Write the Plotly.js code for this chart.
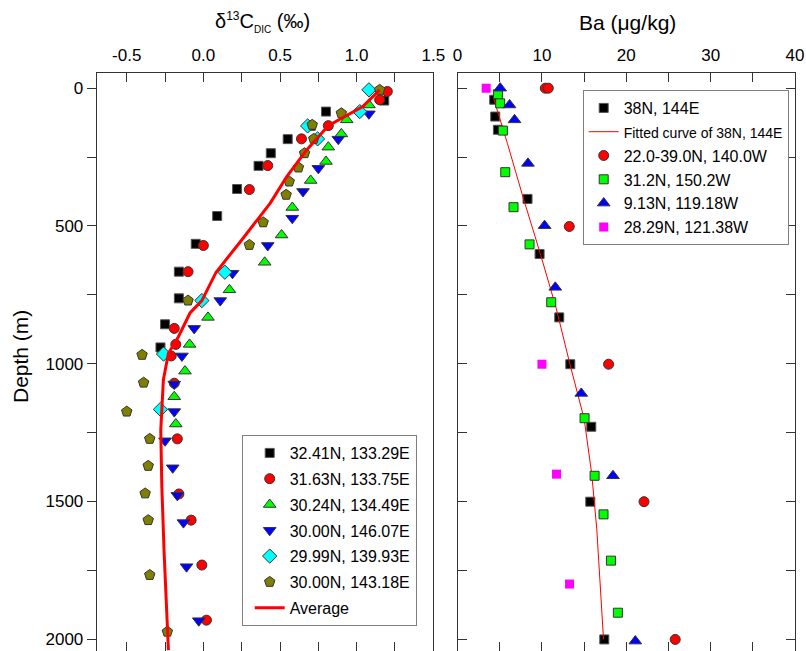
<!DOCTYPE html>
<html>
<head>
<meta charset="utf-8">
<script src="https://cdn.plot.ly/plotly-3.0.1.min.js"></script>
<style>html,body{margin:0;padding:0;background:#fff;}#chart{width:806px;height:651px;}</style>
</head>
<body>
<div id="chart"></div>
<script>
// ---------- Left panel: δ13C-DIC (‰) vs depth (m) ----------
const c1Name = "32.41N, 133.29E";
const c1X = [1.18, 0.80, 0.70, 0.55, 0.44, 0.36, 0.22, 0.09, -0.05, -0.16, -0.16, -0.25, -0.28];
const c1D = [45, 85, 137, 185, 236, 282, 366, 464, 565, 666, 763, 857, 941];

const c2Name = "31.63N, 133.75E";
const c2X = [1.20, 1.15, 0.815, 0.64, 0.42, 0.30, 0.00, -0.10, -0.19, -0.18, -0.21, -0.19, -0.17, -0.16, -0.08, -0.01, 0.02];
const c2D = [12, 42, 136, 184, 281, 368, 571, 666, 872, 930, 972, 1071, 1273, 1473, 1568, 1731, 1931];

const c3Name = "30.24N, 134.49E";
const c3X = [1.08, 0.935, 0.90, 0.815, 0.80, 0.70, 0.58, 0.51, 0.40, 0.17, 0.03, -0.09, -0.12, -0.19, -0.18];
const c3D = [61, 115, 166, 214, 266, 335, 433, 533, 632, 732, 832, 930, 1027, 1120, 1219];

const c4Name = "30.00N, 146.07E";
const c4X = [1.08, 0.88, 0.75, 0.65, 0.58, 0.42, 0.19, 0.11, -0.06, -0.14, -0.19, -0.19, -0.25, -0.20, -0.17, -0.13, -0.11, -0.03];
const c4D = [93, 185, 291, 375, 472, 571, 672, 771, 872, 972, 1074, 1174, 1280, 1378, 1478, 1577, 1737, 1933];

const c5Name = "29.99N, 139.93E";
const c5X = [1.08, 1.02, 0.68, 0.745, 0.14, -0.01, -0.26, -0.28];
const c5D = [6, 85, 137, 184, 668, 771, 965, 1166];

const c6Name = "30.00N, 143.18E";
const c6X = [1.15, 0.90, 0.71, 0.72, 0.66, 0.62, 0.56, 0.54, 0.39, 0.30, -0.10, -0.40, -0.39, -0.50, -0.35, -0.36, -0.38, -0.36, -0.35, -0.235];
const c6D = [6, 91, 133, 184, 236, 288, 339, 387, 487, 569, 771, 968, 1069, 1174, 1273, 1371, 1471, 1568, 1767, 1973];

const avgName = "Average";
const avgX = [1.15, 1.04, 0.815, 0.674, 0.544, 0.435, 0.25, 0.083, -0.01, -0.087, -0.163, -0.228, -0.261, -0.278, -0.271, -0.256, -0.228];
const avgD = [6, 67, 136, 224, 321, 418, 551, 668, 771, 816, 902, 962, 1059, 1241, 1447, 1688, 2040];

// ---------- Right panel: Ba (μg/kg) vs depth (m) ----------
const b1Name = "38N, 144E";
const b1X = [4.34, 4.46, 4.78, 8.29, 9.72, 12.05, 13.36, 15.85, 15.73, 17.39];
const b1D = [42, 103, 151, 402, 602, 832, 1002, 1229, 1501, 2001];

const fitName = "Fitted curve of 38N, 144E";
const fitX = [4.26, 5.9, 7.8, 9.8, 11.7, 13.3, 15.0, 15.9, 16.5, 16.9, 17.3];
const fitD = [36, 200, 400, 600, 800, 1000, 1200, 1400, 1600, 1800, 2000];

const b2Name = "22.0-39.0N, 140.0W";
const b2X = [10.4, 10.75, 13.24, 17.9, 22.1, 25.8];
const b2D = [0, 0, 502, 1002, 1501, 2001];

const b3Name = "31.2N, 150.2W";
const b3X = [4.78, 5.05, 5.37, 5.65, 6.63, 8.53, 11.1, 15.05, 16.24, 17.3, 18.18, 19.0];
const b3D = [22, 55, 154, 305, 432, 567, 777, 1198, 1407, 1547, 1715, 1904];

const b4Name = "9.13N, 119.18W";
const b4X = [5.05, 6.16, 6.75, 8.34, 10.31, 11.58, 14.66, 18.42, 21.07];
const b4D = [0, 61, 115, 273, 499, 723, 1108, 1407, 2007];

const b5Name = "28.29N, 121.38W";
const b5X = [3.39, 10.0, 11.73, 13.27];
const b5D = [0, 1002, 1401, 1800];

// ---------- Tick labels ----------
const dicTickVals = [-0.5, 0.0, 0.5, 1.0, 1.5];
const dicTickText = ["-0.5", "0.0", "0.5", "1.0", "1.5"];
const baTickVals = [0, 10, 20, 30, 40];
const baTickText = ["0", "10", "20", "30", "40"];
const depthTickVals = [0, 500, 1000, 1500, 2000];
const depthTickText = ["0", "500", "1000", "1500", "2000"];

const W = 806, H = 651;
const FONT = "Liberation Sans, Arial, sans-serif";
const edge = {color: "#333", width: 1};

function pts(name, x, y, sym, color, size, line, xa, ya, leg, grp) {
  return {type: "scatter", mode: "markers", name: name, x: x, y: y,
    xaxis: xa, yaxis: ya, legend: leg, legendgroup: grp,
    marker: {symbol: sym, color: color, size: size, line: line}};
}

const traces = [
  pts(c1Name, c1X, c1D, "square", "#000000", 9, {color: "#555", width: 1}, "x", "y", "legend", "a1"),
  pts(c2Name, c2X, c2D, "circle", "#ff0000", 10, edge, "x", "y", "legend", "a2"),
  pts(c3Name, c3X, c3D, "triangle-up", "#00ff00", 11, edge, "x", "y", "legend", "a3"),
  pts(c4Name, c4X, c4D, "triangle-down", "#0000ff", 11, edge, "x", "y", "legend", "a4"),
  pts(c5Name, c5X, c5D, "diamond", "#00ffff", 11, edge, "x", "y", "legend", "a5"),
  pts(c6Name, c6X, c6D, "pentagon", "#808000", 11, edge, "x", "y", "legend", "a6"),
  {type: "scatter", mode: "lines", name: avgName, x: avgX, y: avgD, xaxis: "x", yaxis: "y",
    legend: "legend", legendgroup: "a7", line: {color: "#ff0000", width: 3}},

  pts(b1Name, b1X, b1D, "square", "#000000", 9, {color: "#555", width: 1}, "x2", "y2", "legend2", "b1"),
  {type: "scatter", mode: "lines", name: '<span style="font-size:14px">' + fitName + '</span>',
    x: fitX, y: fitD, xaxis: "x2", yaxis: "y2", legend: "legend2", legendgroup: "b2",
    line: {color: "#ff0000", width: 1}},
  pts(b2Name, b2X, b2D, "circle", "#ff0000", 10, edge, "x2", "y2", "legend2", "b3"),
  pts(b3Name, b3X, b3D, "square", "#00ff00", 9, edge, "x2", "y2", "legend2", "b4"),
  pts(b4Name, b4X, b4D, "triangle-up", "#0000ff", 11, edge, "x2", "y2", "legend2", "b5"),
  pts(b5Name, b5X, b5D, "square", "#ff00ff", 9, {color: "#ff00ff", width: 0}, "x2", "y2", "legend2", "b6")
];

const yTop = 1 - 73.3 / H;
const depthRange = [2043, -54];
const axLine = "#333";

const layout = {
  width: W, height: H,
  margin: {l: 0, r: 0, t: 0, b: 0},
  paper_bgcolor: "#ffffff", plot_bgcolor: "#ffffff",
  font: {family: FONT, size: 16, color: "#000"},
  showlegend: true,
  xaxis: {domain: [96.7 / W, 433.3 / W], range: [-0.696, 1.5], side: "top", anchor: "y",
    tickmode: "array", tickvals: dicTickVals, ticktext: dicTickText,
    ticks: "inside", ticklen: 9, tickcolor: axLine, tickwidth: 1, ticklabelstandoff: 5,
    minor: {dtick: 0.25, tick0: 0, ticks: "inside", ticklen: 9, tickcolor: axLine},
    showline: true, linecolor: axLine, linewidth: 1, mirror: "allticks",
    showgrid: false, zeroline: false, tickfont: {size: 17, family: FONT}},
  yaxis: {domain: [0, yTop], range: depthRange, anchor: "x",
    tickmode: "array", tickvals: depthTickVals, ticktext: depthTickText,
    ticks: "outside", ticklen: 9, tickcolor: axLine,
    minor: {dtick: 250, tick0: 0, ticks: "outside", ticklen: 9, tickcolor: axLine},
    showline: true, linecolor: axLine, linewidth: 1, mirror: true,
    showgrid: false, zeroline: false, tickfont: {size: 17, family: FONT}},
  xaxis2: {domain: [457.6 / W, 795 / W], range: [0, 40], side: "top", anchor: "y2",
    tickmode: "array", tickvals: baTickVals, ticktext: baTickText,
    ticks: "inside", ticklen: 9, tickcolor: axLine, ticklabelstandoff: 5,
    minor: {dtick: 5, tick0: 0, ticks: "inside", ticklen: 9, tickcolor: axLine},
    showline: true, linecolor: axLine, linewidth: 1, mirror: "allticks",
    showgrid: false, zeroline: false, tickfont: {size: 17, family: FONT}},
  yaxis2: {domain: [0, yTop], range: depthRange, anchor: "x2",
    tickmode: "array", tickvals: depthTickVals, ticktext: depthTickText, showticklabels: false,
    ticks: "inside", ticklen: 9, tickcolor: axLine,
    minor: {dtick: 250, tick0: 0, ticks: "inside", ticklen: 9, tickcolor: axLine},
    showline: true, linecolor: axLine, linewidth: 1, mirror: "allticks",
    showgrid: false, zeroline: false},
  legend: {x: 241.7 / W, y: 1 - 435 / H, xanchor: "left", yanchor: "top",
    bgcolor: "#ffffff", bordercolor: "#808080", borderwidth: 1, indentation: 7,
    font: {size: 16, family: FONT}, traceorder: "grouped", tracegroupgap: 2},
  legend2: {x: 582.7 / W, y: 1 - 90 / H, xanchor: "left", yanchor: "top",
    bgcolor: "#ffffff", bordercolor: "#808080", borderwidth: 1, entrywidth: 188,
    font: {size: 16, family: FONT}, traceorder: "grouped", tracegroupgap: 0},
  annotations: [
    {text: "δ<sup><span style='font-size:12px'>13</span></sup>C<sub><span style='font-size:10px'>DIC</span></sub> (‰)",
      xref: "paper", yref: "paper",
      x: 262 / W, y: 1 - 22 / H, showarrow: false, xanchor: "center", yanchor: "middle",
      font: {size: 20, family: FONT}},
    {text: "Ba (μg/kg)", xref: "paper", yref: "paper",
      x: 627 / W, y: 1 - 22 / H, showarrow: false, xanchor: "center", yanchor: "middle",
      font: {size: 21, family: FONT}},
    {text: "Depth (m)", xref: "paper", yref: "paper", textangle: -90,
      x: 20 / W, y: 1 - 357 / H, showarrow: false, xanchor: "center", yanchor: "middle",
      font: {size: 21, family: FONT}}
  ]
};

Plotly.newPlot("chart", traces, layout, {staticPlot: true, displayModeBar: false});
</script>
</body>
</html>
